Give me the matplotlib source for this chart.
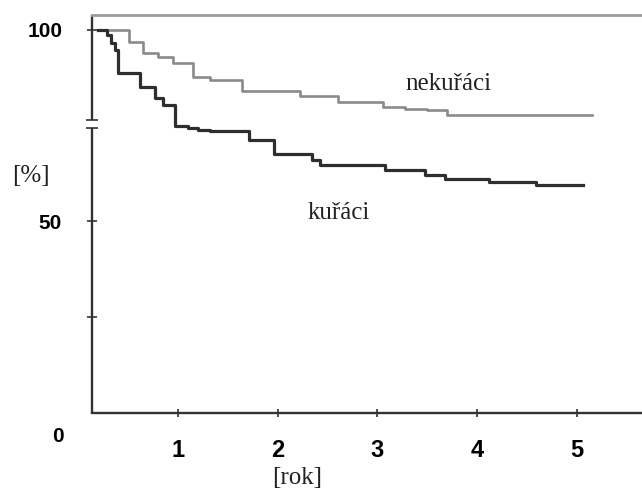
import numpy as np
import matplotlib.pyplot as plt

# Kaplan-Meier style curves (years, % surviving)
t_nekuraci = [0.20, 0.51, 0.65, 0.80, 0.95, 1.15, 1.32, 1.64, 2.23, 2.61, 3.06, 3.28, 3.50, 3.70, 5.15]
s_nekuraci = [100.0, 96.9, 94.0, 93.0, 91.4, 87.7, 86.9, 84.1, 82.8, 81.2, 79.9, 79.4, 79.1, 77.8, 77.8]

t_kuraci = [0.20, 0.29, 0.33, 0.37, 0.40, 0.62, 0.77, 0.85, 0.97, 1.10, 1.20, 1.32,
            1.71, 1.96, 2.35, 2.43, 3.08, 3.48, 3.68, 4.12, 4.59, 5.06]
s_kuraci = [100.0, 98.7, 96.5, 94.8, 88.8, 85.1, 82.2, 80.4, 74.9, 74.3, 73.9, 73.5,
            71.3, 67.6, 66.1, 64.8, 63.4, 62.1, 61.0, 60.3, 59.6, 59.6]

xticks = [1, 2, 3, 4, 5]
yticks = [25, 50, 100]
ytick_labels = ['', '50', '100']

W, H = 642, 491
fig = plt.figure(figsize=(W / 100, H / 100), dpi=100)
ax = fig.add_axes([92 / W, (H - 413) / H, 550 / W, 398 / H])

ax.plot(t_nekuraci, s_nekuraci, drawstyle='steps-post', color='#8a8a8a', lw=1.9)
ax.plot(t_kuraci, s_kuraci, drawstyle='steps-post', color='#2e2e2e', lw=2.3)

ax.set_xlim(0.14, 5.654)
ax.set_ylim(0, 103.9)

# frame: gray top line, dark bottom, broken left axis
for s in ['right', 'left']:
    ax.spines[s].set_visible(False)
ax.spines['top'].set_color('#9a9a9a')
ax.spines['top'].set_linewidth(2.0)
ax.spines['bottom'].set_color('#333333')
ax.spines['bottom'].set_linewidth(1.7)

brk_lo, brk_hi = 74.4, 76.5
ax.plot([0.14, 0.14], [0, brk_lo], color='#333333', lw=1.7, clip_on=False, solid_capstyle='butt')
ax.plot([0.14, 0.14], [brk_hi, 103.9], color='#333333', lw=1.7, clip_on=False, solid_capstyle='butt')
ax.plot([0.14, 0.14], [brk_lo, brk_hi], ls='none', marker='_', ms=8, mew=1.2,
        color='#333333', clip_on=False)

tick_font = {'family': ['Liberation Sans Narrow', 'Liberation Sans'], 'weight': 'bold'}
ax.set_xticks(xticks)
ax.set_xticklabels([str(v) for v in xticks], fontdict=tick_font, fontsize=17)
ax.set_yticks(yticks)
ax.set_yticklabels(ytick_labels, fontdict=tick_font, fontsize=15)
ax.tick_params(axis='x', direction='inout', length=6, width=1.2, color='#333333', pad=16)
ax.tick_params(axis='y', direction='inout', length=7, width=1.2, color='#333333', pad=18)

fig.text(58 / W, 1 - 437 / H, '0', ha='center', va='center', fontsize=15, **tick_font)

serif = {'family': 'Liberation Serif', 'color': '#222222', 'fontsize': 18}
ax.text(3.28, 85.9, 'nekuřáci', ha='left', va='center', **serif)
ax.text(2.61, 52.2, 'kuřáci', ha='center', va='center', **serif)
fig.text(31 / W, 1 - 176 / H, '[%]', ha='center', va='center', **serif)
fig.text(297 / W, 1 - 478 / H, '[rok]', ha='center', va='center', **serif)

fig.savefig('out.png', dpi=100)
